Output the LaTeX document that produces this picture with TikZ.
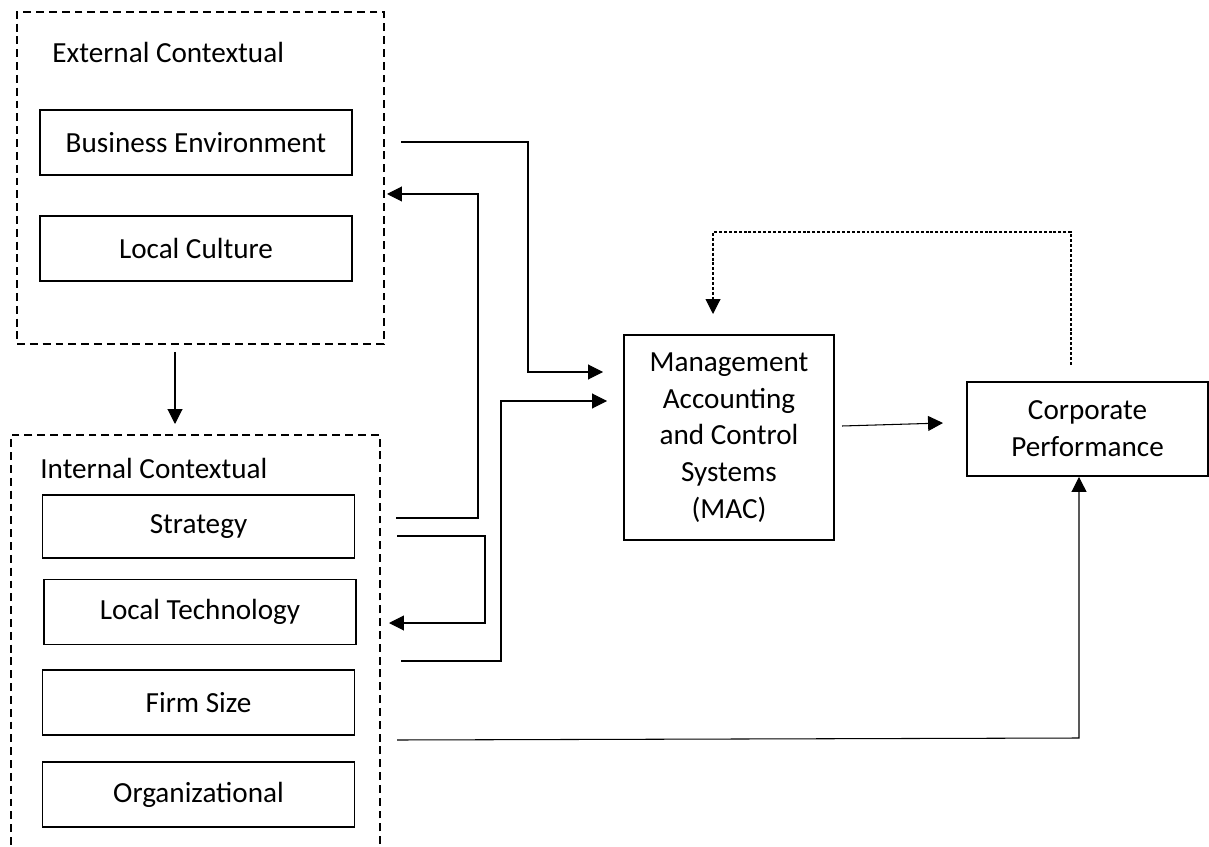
\documentclass[tikz,border=0pt]{standalone}
\usepackage{fontspec}
\setmainfont{Carlito}
\usetikzlibrary{arrows.meta,positioning}

\begin{document}
\begin{tikzpicture}[x=0.02cm, y=-0.02cm,
    every node/.style={font=\fontsize{16.6}{20.9}\selectfont},
    box/.style={draw, line width=1.1pt, align=center, minimum width=6.24cm, minimum height=1.3cm, inner sep=0pt},
    group/.style={draw, line width=0.9pt, dash pattern=on 4.5pt off 2.8pt, inner sep=0pt},
    conn/.style={line width=0.6pt, -{Triangle[length=8.5pt,width=8.5pt]}},
    feedback/.style={conn, dash pattern=on 1.7pt off 1.1pt}]
  \useasboundingbox (0,0) rectangle (1209,847);
  \clip (0,0) rectangle (1209,847);

  % context groups
  \node[group, minimum width=7.34cm, minimum height=6.64cm] (ext) at (200.5,178) {};
  \node[group, minimum width=7.38cm, minimum height=8.5cm] (int) at (195.5,647.5) {};
  \node[anchor=west, inner sep=0pt] (extlbl) at (52,52) {External Contextual};
  \node[anchor=west, inner sep=0pt] (intlbl) at (40,468) {Internal Contextual};

  % factors
  \node[box] (be) at (196,142.5) {Business Environment};
  \node[box] (lc) at (196,248.5) {Local Culture};
  \node[box, minimum height=1.26cm] (st) at (198.5,526.5) {Strategy};
  \node[box] (lt) at (200,612) {Local Technology};
  \node[box] (fs) at (198.5,702.5) {Firm Size};
  \node[box] (og) at (198.5,794.5) {Organizational};

  % outcome side
  \node[box, minimum width=4.2cm, minimum height=4.1cm] (mac) at (729,437.5) {Management\\Accounting\\and Control\\Systems\\(MAC)};
  \node[box, minimum width=4.82cm, minimum height=1.88cm] (cp) at (1087.5,429) {Corporate\\Performance};

  % free ends
  \coordinate (extout) at (175,352);
  \coordinate (intin) at (175,424);
  \coordinate (beout) at (401,142);
  \coordinate (macinA) at (603,372);
  \coordinate (macinB) at (607,401);
  \coordinate (stoutA) at (396,518);
  \coordinate (stoutB) at (397,536);
  \coordinate (extin) at (387,194);
  \coordinate (ltin) at (389,623);
  \coordinate (ltout) at (401,661);
  \coordinate (fsout) at (397,740);
  \coordinate (macout) at (842,426);
  \coordinate (cpin) at (943,423);
  \coordinate (cpfb) at (1071,365);
  \coordinate (macfb) at (713,314);

  \draw[conn] (extout) -- (intin);
  \draw[conn] (beout) -| (528,372) -- (macinA);
  \draw[conn] (stoutA) -| (478,194) -- (extin);
  \draw[conn] (stoutB) -| (485,623) -- (ltin);
  \draw[conn] (ltout) -| (501,401) -- (macinB);
  \draw[conn] (macout) -- (cpin);
  \draw[conn] (fsout) -- (1079,738) -- ([xshift=-0.17cm]cp.south);
  \draw[feedback] (cpfb) -- (1071,232) -| (macfb);
\end{tikzpicture}
\end{document}
